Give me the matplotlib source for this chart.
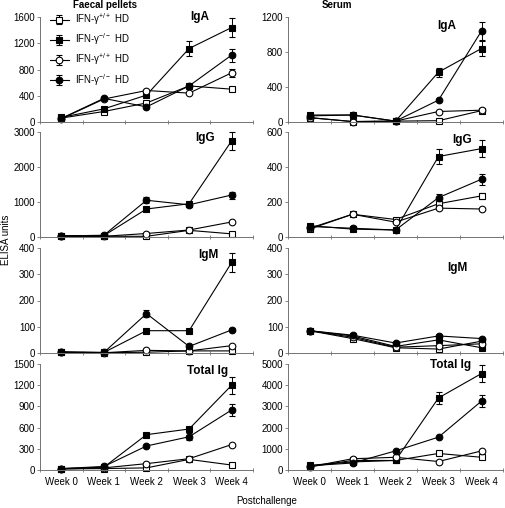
import numpy as np
import matplotlib
matplotlib.use("Agg")
import matplotlib.pyplot as plt

plt.rcParams['font.family'] = ['Liberation Sans', 'DejaVu Sans']
plt.rcParams['mathtext.fontset'] = 'custom'
plt.rcParams['mathtext.rm'] = 'Liberation Sans'
plt.rcParams['mathtext.it'] = 'Liberation Sans:italic'

weeks = ["Week 0", "Week 1", "Week 2", "Week 3", "Week 4"]
labels = [r"IFN-γ$^{+/+}$ HD", r"IFN-γ$^{-/-}$ HD",
          r"IFN-γ$^{+/+}$ HD", r"IFN-γ$^{-/-}$ HD"]

# series order: open square, filled square, open circle, filled circle
fae_iga = [[60, 160, 290, 550, 500],
           [70, 200, 410, 1120, 1440],
           [50, 350, 480, 440, 750],
           [55, 360, 230, 550, 1020]]
fae_iga_err = [[0, 0, 0, 0, 30],
               [0, 0, 0, 110, 140],
               [0, 0, 0, 0, 60],
               [0, 0, 0, 0, 100]]

fae_igg = [[20, 20, 20, 190, 90],
           [40, 40, 800, 950, 2750],
           [20, 20, 100, 200, 430],
           [30, 50, 1050, 920, 1200]]
fae_igg_err = [[0, 0, 0, 0, 0],
               [0, 0, 40, 60, 250],
               [0, 0, 0, 0, 0],
               [0, 0, 80, 60, 100]]

fae_igm = [[2, 1, 3, 8, 8],
           [5, 2, 85, 85, 345],
           [2, 1, 10, 8, 28],
           [3, 2, 150, 25, 88]]
fae_igm_err = [[0, 0, 0, 0, 0],
               [0, 0, 0, 0, 35],
               [0, 0, 0, 0, 0],
               [0, 0, 12, 0, 6]]

fae_tot = [[15, 20, 30, 150, 70],
           [20, 40, 500, 580, 1200],
           [15, 30, 90, 160, 360],
           [20, 50, 340, 470, 850]]
fae_tot_err = [[0, 0, 0, 0, 0],
               [0, 0, 0, 30, 120],
               [0, 0, 0, 0, 0],
               [0, 0, 0, 50, 80]]

ser_iga = [[50, 5, 10, 15, 130],
           [80, 80, 10, 570, 840],
           [50, 5, 10, 120, 135],
           [70, 80, 10, 250, 1040]]
ser_iga_err = [[0, 0, 0, 0, 0],
               [0, 0, 0, 50, 80],
               [0, 0, 0, 0, 0],
               [0, 0, 0, 0, 100]]

ser_igg = [[45, 130, 100, 190, 235],
           [65, 45, 40, 460, 505],
           [50, 130, 85, 165, 160],
           [60, 50, 40, 225, 330]]
ser_igg_err = [[0, 0, 0, 0, 15],
               [0, 0, 0, 45, 50],
               [0, 0, 0, 0, 0],
               [0, 0, 0, 20, 30]]

ser_igm = [[85, 55, 20, 15, 45],
           [85, 65, 25, 50, 20],
           [85, 60, 22, 28, 35],
           [85, 68, 38, 65, 55]]
ser_igm_err = [[0] * 5, [0] * 5, [0] * 5, [0] * 5]

ser_tot = [[150, 450, 450, 780, 600],
           [220, 380, 450, 3400, 4550],
           [150, 530, 600, 400, 900],
           [200, 330, 900, 1550, 3250]]
ser_tot_err = [[0, 0, 0, 0, 0],
               [0, 0, 0, 300, 400],
               [0, 0, 0, 0, 0],
               [0, 0, 0, 0, 300]]

W, H = 506, 508
fig = plt.figure(figsize=(W / 100, H / 100), dpi=100)

def px_axes(x0, x1, top, bottom):
    return fig.add_axes([x0 / W, 1 - bottom / H, (x1 - x0) / W, (bottom - top) / H])

styles = [dict(marker='s', mfc='white'), dict(marker='s', mfc='black'),
          dict(marker='o', mfc='white'), dict(marker='o', mfc='black')]

rows = [(17, 122), (132, 237), (248, 353), (364, 470)]
cols = [(40, 253), (288, 503)]

panels = [
    (0, 0, fae_iga, fae_iga_err, 1600, [0, 400, 800, 1200, 1600], "IgA", (0.75, 1.0)),
    (1, 0, fae_igg, fae_igg_err, 3000, [0, 1000, 2000, 3000], "IgG", (0.775, 0.94)),
    (2, 0, fae_igm, fae_igm_err, 400, [0, 100, 200, 300, 400], "IgM", (0.79, 0.93)),
    (3, 0, fae_tot, fae_tot_err, 1500, [0, 300, 600, 900, 1200, 1500], "Total Ig", (0.785, 0.93)),
    (0, 1, ser_iga, ser_iga_err, 1200, [0, 400, 800, 1200], "IgA", (0.74, 0.91)),
    (1, 1, ser_igg, ser_igg_err, 600, [0, 200, 400, 600], "IgG", (0.81, 0.92)),
    (2, 1, ser_igm, ser_igm_err, 400, [0, 100, 200, 300, 400], "IgM", (0.79, 0.81)),
    (3, 1, ser_tot, ser_tot_err, 5000, [0, 1000, 2000, 3000, 4000, 5000], "Total Ig", (0.755, 0.99)),
]

x = np.arange(len(weeks))
axes = {}
for r, c, data, err, ymax, yt, title, tpos in panels:
    ax = px_axes(cols[c][0], cols[c][1], rows[r][0], rows[r][1])
    axes[(r, c)] = ax
    for vals, e, st, lab in zip(data, err, styles, labels):
        e = np.array(e, dtype=float)
        e[e == 0] = np.nan  # no bar where none is drawn
        ax.errorbar(x, vals, yerr=e, color='black', lw=0.8, ms=4.8, mec='black',
                    mew=0.8, capsize=2, elinewidth=0.7, capthick=0.7,
                    label=lab, clip_on=False, **st)
    ax.set_xlim(-0.5, 4.5)
    ax.set_ylim(0, ymax)
    ax.set_yticks(yt)
    ax.set_xticks(np.arange(-0.5, 5, 1))
    ax.set_xticklabels([])
    ax.set_xticks(x, minor=True)
    if r == 3:
        ax.set_xticklabels(weeks, minor=True)
    ax.tick_params(axis='x', which='minor', length=0, labelsize=7, pad=5)
    ax.tick_params(axis='x', which='major', direction='inout', length=3,
                   width=0.6, color='0.45')
    ax.tick_params(axis='y', direction='out', length=2.5, width=0.6,
                   color='0.45', labelsize=7, pad=1)
    for s in ['top', 'right']:
        ax.spines[s].set_visible(False)
    for s in ['left', 'bottom']:
        ax.spines[s].set_color('0.45')
        ax.spines[s].set_linewidth(0.7)
    ax.text(tpos[0], tpos[1], title, transform=ax.transAxes, ha='center',
            va='center', fontsize=8.5, fontweight='bold')

handles, labs = axes[(0, 0)].get_legend_handles_labels()
axes[(0, 0)].legend(handles, labs, loc='upper left', bbox_to_anchor=(0.045, 1.055),
                    frameon=False, fontsize=7, borderpad=0, borderaxespad=0,
                    handlelength=2.0, handletextpad=0.6, labelspacing=0.45)

fig.text(73 / W, 1 - 5 / H, "Faecal pellets", fontsize=7, fontweight='bold',
         ha='left', va='center')
fig.text(322 / W, 1 - 5 / H, "Serum", fontsize=7, fontweight='bold',
         ha='left', va='center')
fig.text(267 / W, 1 - 501 / H, "Postchallenge", fontsize=7, ha='center', va='center')
fig.text(6 / W, 1 - 240 / H, "ELISA units", fontsize=7, rotation=90,
         ha='center', va='center')

fig.savefig("out.png", dpi=100)
